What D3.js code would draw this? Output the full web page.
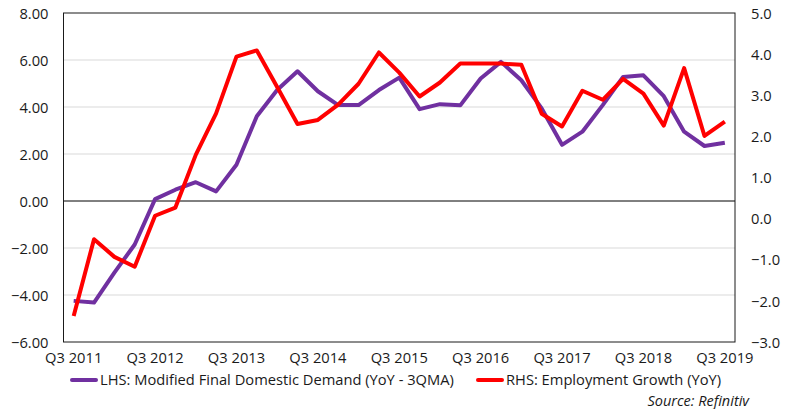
<!DOCTYPE html>
<html>
<head>
<meta charset="utf-8">
<script src="https://cdn.jsdelivr.net/npm/d3@7"></script>
<style>
  body { margin: 0; background: #fff; }
  text { font-family: "Open Sans", sans-serif; fill: #1a1a1a; }
</style>
</head>
<body>
<div id="chart"></div>
<script>
// quarters Q3 2011 .. Q3 2019
var quarters = [
  "Q3 2011","Q4 2011","Q1 2012","Q2 2012","Q3 2012","Q4 2012","Q1 2013","Q2 2013",
  "Q3 2013","Q4 2013","Q1 2014","Q2 2014","Q3 2014","Q4 2014","Q1 2015","Q2 2015",
  "Q3 2015","Q4 2015","Q1 2016","Q2 2016","Q3 2016","Q4 2016","Q1 2017","Q2 2017",
  "Q3 2017","Q4 2017","Q1 2018","Q2 2018","Q3 2018","Q4 2018","Q1 2019","Q2 2019",
  "Q3 2019"
];
var tickQuarters = ["Q3 2011","Q3 2012","Q3 2013","Q3 2014","Q3 2015","Q3 2016","Q3 2017","Q3 2018","Q3 2019"];

// LHS: Modified Final Domestic Demand (YoY - 3QMA)
var mfdd = [
  -4.25, -4.32, -3.05, -1.85, 0.08, 0.48, 0.80, 0.41,
  1.54, 3.61, 4.72, 5.52, 4.67, 4.08, 4.08, 4.72,
  5.25, 3.91, 4.12, 4.07, 5.21, 5.92, 5.14, 3.94,
  2.39, 2.95, 4.08, 5.28, 5.35, 4.46, 2.95, 2.34,
  2.48
];
// RHS: Employment Growth (YoY)
var employment = [
  -2.37, -0.50, -0.93, -1.17, 0.07, 0.27, 1.55, 2.56,
  3.94, 4.09, 3.20, 2.30, 2.40, 2.77, 3.28, 4.04,
  3.55, 2.97, 3.31, 3.77, 3.77, 3.77, 3.74, 2.55,
  2.24, 3.11, 2.89, 3.40, 3.04, 2.26, 3.66, 2.01,
  2.36
];
var leftTicks = [-6, -4, -2, 0, 2, 4, 6, 8];
var rightTicks = [-3, -2, -1, 0, 1, 2, 3, 4, 5];

var W = 788, H = 409;
var m = { top: 13, right: 53, bottom: 67, left: 63.5 };
var fs = "14.7px";

var svg = d3.select("#chart").append("svg")
  .attr("width", W).attr("height", H);

var x = d3.scaleBand().domain(quarters)
  .range([m.left, W - m.right]);
var yL = d3.scaleLinear().domain([-6, 8]).range([H - m.bottom, m.top]);
var yR = d3.scaleLinear().domain([-3, 5]).range([H - m.bottom, m.top]);

var cx = d => x(d) + x.bandwidth() / 2;

// gridlines
svg.append("g")
  .selectAll("line")
  .data(leftTicks.filter(t => t !== 0 && t !== 8 && t !== -6))
  .join("line")
  .attr("x1", m.left).attr("x2", W - m.right)
  .attr("y1", d => yL(d)).attr("y2", d => yL(d))
  .attr("stroke", "#d9d9d9").attr("stroke-width", 1);

// zero line
svg.append("line")
  .attr("x1", m.left).attr("x2", W - m.right)
  .attr("y1", yL(0)).attr("y2", yL(0))
  .attr("stroke", "#000").attr("stroke-width", 1);

// frame
svg.append("rect")
  .attr("x", m.left).attr("y", m.top)
  .attr("width", W - m.right - m.left).attr("height", H - m.bottom - m.top)
  .attr("fill", "none").attr("stroke", "#1a1a1a").attr("stroke-width", 1);

// left axis
var gL = svg.append("g")
  .attr("transform", "translate(" + m.left + ",0)")
  .call(d3.axisLeft(yL).tickValues(leftTicks).tickFormat(d3.format(".2f")).tickSize(0).tickPadding(15));
gL.select(".domain").remove();
gL.selectAll("text").style("font-size", fs).attr("dy", "0.35em");

// right axis
var gR = svg.append("g")
  .attr("transform", "translate(" + (W - m.right) + ",0)")
  .call(d3.axisRight(yR).tickValues(rightTicks).tickFormat(d3.format(".1f")).tickSize(0).tickPadding(16));
gR.select(".domain").remove();
gR.selectAll("text").style("font-size", fs).attr("dy", "0.35em");

// bottom axis
var gB = svg.append("g")
  .attr("transform", "translate(0," + (H - m.bottom) + ")")
  .call(d3.axisBottom(x).tickValues(tickQuarters).tickSize(0).tickPadding(11));
gB.select(".domain").remove();
gB.selectAll("text").style("font-size", fs);

// lines
var lineL = d3.line().x((d, i) => cx(quarters[i])).y(d => yL(d));
var lineR = d3.line().x((d, i) => cx(quarters[i])).y(d => yR(d));

svg.append("path").datum(mfdd)
  .attr("d", lineL)
  .attr("fill", "none").attr("stroke", "#7030a0")
  .attr("stroke-width", 4).attr("stroke-linejoin", "round");

svg.append("path").datum(employment)
  .attr("d", lineR)
  .attr("fill", "none").attr("stroke", "#ff0000")
  .attr("stroke-width", 4).attr("stroke-linejoin", "round");

// legend
var legend = [
  { label: "LHS: Modified Final Domestic Demand (YoY - 3QMA)", color: "#7030a0", x: 72 },
  { label: "RHS: Employment Growth (YoY)", color: "#ff0000", x: 478 }
];
var lg = svg.append("g").selectAll("g").data(legend).join("g")
  .attr("transform", d => "translate(" + d.x + ",380)");
lg.append("line")
  .attr("x1", 0).attr("x2", 24).attr("y1", 0).attr("y2", 0)
  .attr("stroke", d => d.color).attr("stroke-width", 4).attr("stroke-linecap", "round");
lg.append("text")
  .attr("x", 28).attr("dy", "0.35em")
  .style("font-size", fs)
  .text(d => d.label);

svg.append("text")
  .attr("x", 749).attr("y", 406)
  .attr("text-anchor", "end")
  .style("font-size", "14.5px").style("font-style", "italic")
  .text("Source: Refinitiv");
</script>
</body>
</html>
